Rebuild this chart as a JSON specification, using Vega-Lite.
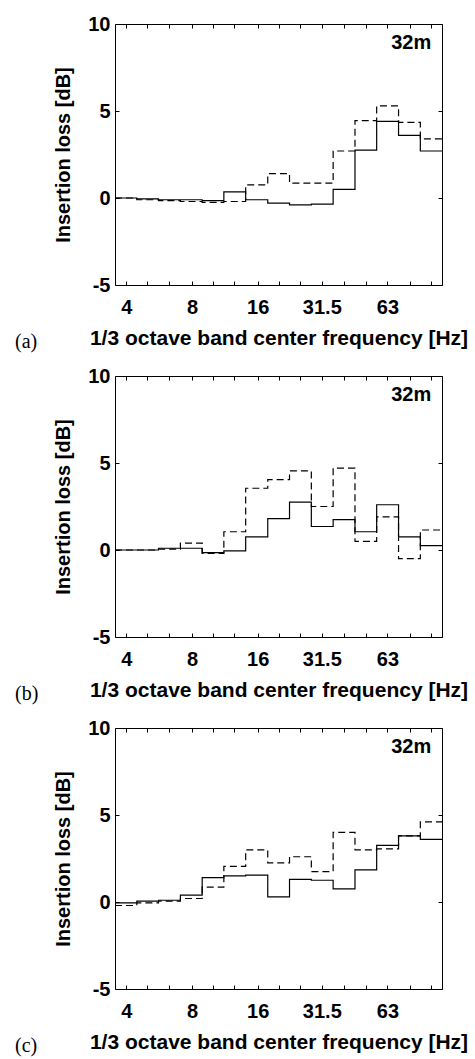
{
  "$schema": "https://vega.github.io/schema/vega-lite/v6.json",
  "autosize": {"type": "pad"},
  "padding": {"left": 14, "top": 13, "right": 0, "bottom": 0},
  "background": "white",
  "config": {
    "view": {"stroke": "black", "strokeWidth": 1},
    "axis": {
      "domain": false, "grid": false,
      "tickColor": "black", "tickWidth": 1, "tickSize": -4,
      "labelFont": "Liberation Sans", "labelFontSize": 20, "labelFontWeight": "bold", "labelColor": "black",
      "titleFont": "Liberation Sans", "titleFontSize": 20, "titleFontWeight": "bold", "titleColor": "black",
      "labelFlush": false, "labelOverlap": false
    },
    "axisBottom": {"titleFontSize": 21},
    "title": {"font": "Liberation Serif", "fontSize": 20, "fontWeight": "normal", "color": "black"}
  },
  "datasets": {
    "bands": [
      {"p": "a", "f": 4, "x0": 3.55, "x1": 4.47, "solid": 0, "dashed": 0},
      {"p": "a", "f": 5, "x0": 4.47, "x1": 5.62, "solid": -0.05, "dashed": -0.1},
      {"p": "a", "f": 6.3, "x0": 5.62, "x1": 7.08, "solid": -0.1, "dashed": -0.15},
      {"p": "a", "f": 8, "x0": 7.08, "x1": 8.91, "solid": -0.1, "dashed": -0.2},
      {"p": "a", "f": 10, "x0": 8.91, "x1": 11.2, "solid": -0.15, "dashed": -0.25},
      {"p": "a", "f": 12.5, "x0": 11.2, "x1": 14.1, "solid": 0.35, "dashed": -0.2},
      {"p": "a", "f": 16, "x0": 14.1, "x1": 17.8, "solid": -0.1, "dashed": 0.75},
      {"p": "a", "f": 20, "x0": 17.8, "x1": 22.4, "solid": -0.3, "dashed": 1.4},
      {"p": "a", "f": 25, "x0": 22.4, "x1": 28.2, "solid": -0.4, "dashed": 0.85},
      {"p": "a", "f": 31.5, "x0": 28.2, "x1": 35.5, "solid": -0.35, "dashed": 0.85},
      {"p": "a", "f": 40, "x0": 35.5, "x1": 44.7, "solid": 0.5, "dashed": 2.7},
      {"p": "a", "f": 50, "x0": 44.7, "x1": 56.2, "solid": 2.75, "dashed": 4.45},
      {"p": "a", "f": 63, "x0": 56.2, "x1": 70.8, "solid": 4.4, "dashed": 5.3},
      {"p": "a", "f": 80, "x0": 70.8, "x1": 89.1, "solid": 3.6, "dashed": 4.35},
      {"p": "a", "f": 100, "x0": 89.1, "x1": 112, "solid": 2.7, "dashed": 3.4},
      {"p": "b", "f": 4, "x0": 3.55, "x1": 4.47, "solid": 0, "dashed": 0},
      {"p": "b", "f": 5, "x0": 4.47, "x1": 5.62, "solid": 0, "dashed": 0},
      {"p": "b", "f": 6.3, "x0": 5.62, "x1": 7.08, "solid": 0.1, "dashed": 0.05},
      {"p": "b", "f": 8, "x0": 7.08, "x1": 8.91, "solid": 0.1, "dashed": 0.4},
      {"p": "b", "f": 10, "x0": 8.91, "x1": 11.2, "solid": -0.15, "dashed": -0.2},
      {"p": "b", "f": 12.5, "x0": 11.2, "x1": 14.1, "solid": -0.05, "dashed": 1.05},
      {"p": "b", "f": 16, "x0": 14.1, "x1": 17.8, "solid": 0.75, "dashed": 3.55},
      {"p": "b", "f": 20, "x0": 17.8, "x1": 22.4, "solid": 1.8, "dashed": 4.05},
      {"p": "b", "f": 25, "x0": 22.4, "x1": 28.2, "solid": 2.75, "dashed": 4.55},
      {"p": "b", "f": 31.5, "x0": 28.2, "x1": 35.5, "solid": 1.35, "dashed": 2.5},
      {"p": "b", "f": 40, "x0": 35.5, "x1": 44.7, "solid": 1.75, "dashed": 4.7},
      {"p": "b", "f": 50, "x0": 44.7, "x1": 56.2, "solid": 1.05, "dashed": 0.5},
      {"p": "b", "f": 63, "x0": 56.2, "x1": 70.8, "solid": 2.6, "dashed": 1.9},
      {"p": "b", "f": 80, "x0": 70.8, "x1": 89.1, "solid": 0.75, "dashed": -0.5},
      {"p": "b", "f": 100, "x0": 89.1, "x1": 112, "solid": 0.25, "dashed": 1.15},
      {"p": "c", "f": 4, "x0": 3.55, "x1": 4.47, "solid": -0.05, "dashed": -0.2},
      {"p": "c", "f": 5, "x0": 4.47, "x1": 5.62, "solid": 0.05, "dashed": -0.05},
      {"p": "c", "f": 6.3, "x0": 5.62, "x1": 7.08, "solid": 0.1, "dashed": 0.05},
      {"p": "c", "f": 8, "x0": 7.08, "x1": 8.91, "solid": 0.4, "dashed": 0.2},
      {"p": "c", "f": 10, "x0": 8.91, "x1": 11.2, "solid": 1.4, "dashed": 0.85},
      {"p": "c", "f": 12.5, "x0": 11.2, "x1": 14.1, "solid": 1.5, "dashed": 2.05},
      {"p": "c", "f": 16, "x0": 14.1, "x1": 17.8, "solid": 1.55, "dashed": 3.0},
      {"p": "c", "f": 20, "x0": 17.8, "x1": 22.4, "solid": 0.3, "dashed": 2.25},
      {"p": "c", "f": 25, "x0": 22.4, "x1": 28.2, "solid": 1.3, "dashed": 2.6},
      {"p": "c", "f": 31.5, "x0": 28.2, "x1": 35.5, "solid": 1.25, "dashed": 1.75},
      {"p": "c", "f": 40, "x0": 35.5, "x1": 44.7, "solid": 0.75, "dashed": 4.0},
      {"p": "c", "f": 50, "x0": 44.7, "x1": 56.2, "solid": 1.85, "dashed": 3.0},
      {"p": "c", "f": 63, "x0": 56.2, "x1": 70.8, "solid": 3.25, "dashed": 3.05},
      {"p": "c", "f": 80, "x0": 70.8, "x1": 89.1, "solid": 3.8, "dashed": 3.8},
      {"p": "c", "f": 100, "x0": 89.1, "x1": 112, "solid": 3.6, "dashed": 4.6}
    ],
    "labels": [{"label": "32m", "x": 100, "y": 8.55}]
  },
  "vconcat": [
    {
      "width": 327, "height": 261,
      "title": {"text": "(a)", "orient": "bottom", "anchor": "start", "frame": "group", "dx": -100, "dy": -20},
      "resolve": {"axis": {"x": "independent", "y": "independent"}},
      "layer": [
        {
          "data": {"name": "bands"},
          "transform": [
            {"filter": "datum.p == 'a'"},
            {"fold": ["x0", "x1"], "as": ["edge", "x"]},
            {"fold": ["solid", "dashed"], "as": ["series", "v"]}
          ],
          "mark": {"type": "line", "color": "black", "strokeWidth": 1.2},
          "encoding": {
            "x": {"field": "x", "type": "quantitative", "scale": {"type": "log", "domain": [3.55, 112], "nice": false},
              "axis": {"orient": "bottom", "title": "1/3 octave band center frequency [Hz]", "values": [4, 5, 6.3, 8, 10, 12.5, 16, 20, 25, 31.5, 40, 50, 63, 80, 100],
                "labelExpr": "datum.value == 4 ? '4' : datum.value == 8 ? '8' : datum.value == 16 ? '16' : datum.value == 31.5 ? '31.5' : datum.value == 63 ? '63' : ''",
                "labelPadding": 16, "titlePadding": 10}},
            "y": {"field": "v", "type": "quantitative", "scale": {"domain": [-5, 10], "nice": false},
              "axis": {"orient": "left", "title": "Insertion loss [dB]", "values": [-5, 0, 5, 10], "labelExpr": "'' + datum.value", "labelPadding": 9, "titlePadding": 14}},
            "strokeDash": {"field": "series", "type": "nominal", "scale": {"domain": ["solid", "dashed"], "range": [[1, 0], [7, 4]]}, "legend": null},
            "order": [{"field": "f", "type": "quantitative"}, {"field": "edge", "type": "nominal"}]
          }
        },
        {
          "data": {"name": "labels"},
          "mark": {"type": "text", "align": "right", "baseline": "alphabetic", "font": "Liberation Sans", "fontSize": 20, "fontWeight": "bold", "color": "black"},
          "encoding": {
            "x": {"field": "x", "type": "quantitative", "axis": {"orient": "top", "title": null, "labels": false, "values": [4, 5, 6.3, 8, 10, 12.5, 16, 20, 25, 31.5, 40, 50, 63, 80, 100]}},
            "y": {"field": "y", "type": "quantitative", "axis": {"orient": "right", "title": null, "labels": false, "values": [-5, 0, 5, 10]}},
            "text": {"field": "label"}
          }
        }
      ]
    },
    {
      "width": 327, "height": 261,
      "title": {"text": "(b)", "orient": "bottom", "anchor": "start", "frame": "group", "dx": -100, "dy": -20},
      "resolve": {"axis": {"x": "independent", "y": "independent"}},
      "layer": [
        {
          "data": {"name": "bands"},
          "transform": [
            {"filter": "datum.p == 'b'"},
            {"fold": ["x0", "x1"], "as": ["edge", "x"]},
            {"fold": ["solid", "dashed"], "as": ["series", "v"]}
          ],
          "mark": {"type": "line", "color": "black", "strokeWidth": 1.2},
          "encoding": {
            "x": {"field": "x", "type": "quantitative", "scale": {"type": "log", "domain": [3.55, 112], "nice": false},
              "axis": {"orient": "bottom", "title": "1/3 octave band center frequency [Hz]", "values": [4, 5, 6.3, 8, 10, 12.5, 16, 20, 25, 31.5, 40, 50, 63, 80, 100],
                "labelExpr": "datum.value == 4 ? '4' : datum.value == 8 ? '8' : datum.value == 16 ? '16' : datum.value == 31.5 ? '31.5' : datum.value == 63 ? '63' : ''",
                "labelPadding": 16, "titlePadding": 10}},
            "y": {"field": "v", "type": "quantitative", "scale": {"domain": [-5, 10], "nice": false},
              "axis": {"orient": "left", "title": "Insertion loss [dB]", "values": [-5, 0, 5, 10], "labelExpr": "'' + datum.value", "labelPadding": 9, "titlePadding": 14}},
            "strokeDash": {"field": "series", "type": "nominal", "scale": {"domain": ["solid", "dashed"], "range": [[1, 0], [7, 4]]}, "legend": null},
            "order": [{"field": "f", "type": "quantitative"}, {"field": "edge", "type": "nominal"}]
          }
        },
        {
          "data": {"name": "labels"},
          "mark": {"type": "text", "align": "right", "baseline": "alphabetic", "font": "Liberation Sans", "fontSize": 20, "fontWeight": "bold", "color": "black"},
          "encoding": {
            "x": {"field": "x", "type": "quantitative", "axis": {"orient": "top", "title": null, "labels": false, "values": [4, 5, 6.3, 8, 10, 12.5, 16, 20, 25, 31.5, 40, 50, 63, 80, 100]}},
            "y": {"field": "y", "type": "quantitative", "axis": {"orient": "right", "title": null, "labels": false, "values": [-5, 0, 5, 10]}},
            "text": {"field": "label"}
          }
        }
      ]
    },
    {
      "width": 327, "height": 261,
      "title": {"text": "(c)", "orient": "bottom", "anchor": "start", "frame": "group", "dx": -100, "dy": -20},
      "resolve": {"axis": {"x": "independent", "y": "independent"}},
      "layer": [
        {
          "data": {"name": "bands"},
          "transform": [
            {"filter": "datum.p == 'c'"},
            {"fold": ["x0", "x1"], "as": ["edge", "x"]},
            {"fold": ["solid", "dashed"], "as": ["series", "v"]}
          ],
          "mark": {"type": "line", "color": "black", "strokeWidth": 1.2},
          "encoding": {
            "x": {"field": "x", "type": "quantitative", "scale": {"type": "log", "domain": [3.55, 112], "nice": false},
              "axis": {"orient": "bottom", "title": "1/3 octave band center frequency [Hz]", "values": [4, 5, 6.3, 8, 10, 12.5, 16, 20, 25, 31.5, 40, 50, 63, 80, 100],
                "labelExpr": "datum.value == 4 ? '4' : datum.value == 8 ? '8' : datum.value == 16 ? '16' : datum.value == 31.5 ? '31.5' : datum.value == 63 ? '63' : ''",
                "labelPadding": 16, "titlePadding": 10}},
            "y": {"field": "v", "type": "quantitative", "scale": {"domain": [-5, 10], "nice": false},
              "axis": {"orient": "left", "title": "Insertion loss [dB]", "values": [-5, 0, 5, 10], "labelExpr": "'' + datum.value", "labelPadding": 9, "titlePadding": 14}},
            "strokeDash": {"field": "series", "type": "nominal", "scale": {"domain": ["solid", "dashed"], "range": [[1, 0], [7, 4]]}, "legend": null},
            "order": [{"field": "f", "type": "quantitative"}, {"field": "edge", "type": "nominal"}]
          }
        },
        {
          "data": {"name": "labels"},
          "mark": {"type": "text", "align": "right", "baseline": "alphabetic", "font": "Liberation Sans", "fontSize": 20, "fontWeight": "bold", "color": "black"},
          "encoding": {
            "x": {"field": "x", "type": "quantitative", "axis": {"orient": "top", "title": null, "labels": false, "values": [4, 5, 6.3, 8, 10, 12.5, 16, 20, 25, 31.5, 40, 50, 63, 80, 100]}},
            "y": {"field": "y", "type": "quantitative", "axis": {"orient": "right", "title": null, "labels": false, "values": [-5, 0, 5, 10]}},
            "text": {"field": "label"}
          }
        }
      ]
    }
  ],
  "spacing": 91,
  "bounds": "flush"
}
